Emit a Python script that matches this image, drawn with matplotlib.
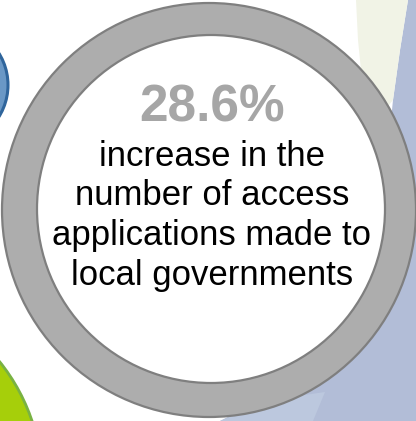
import matplotlib
matplotlib.use("Agg")
import matplotlib.pyplot as plt
from matplotlib.patches import Circle, Polygon

plt.rcParams["font.family"] = ["Liberation Sans", "DejaVu Sans"]

# headline figure and the caption under it
headline = "28.6%"
caption_lines = ["increase in the", "number of access",
                 "applications made to", "local governments"]

W, H = 416, 421
fig = plt.figure(figsize=(W / 100, H / 100), dpi=100)
ax = fig.add_axes([0, 0, 1, 1])
ax.set_xlim(0, W)
ax.set_ylim(H, 0)
ax.set_aspect("auto")
ax.axis("off")

# backdrop shapes peeking in from the edges
ax.add_patch(Polygon([(408, 0), (416, 0), (416, 421), (220, 421), (300, 380),
                      (370, 250), (388, 150), (393, 100), (400, 50)],
                     closed=True, facecolor="#b2bdd7", edgecolor="none", zorder=1))
ax.add_patch(Polygon([(220, 421), (313, 421), (325, 392), (270, 400)],
                     closed=True, facecolor="#bcc8de", edgecolor="none", zorder=1))
ax.add_patch(Polygon([(356, 0), (408, 0), (400, 50), (393, 100), (385, 110),
                      (362, 80), (358, 40)],
                     closed=True, facecolor="#f1f3e6", edgecolor="none", zorder=1))
ax.add_patch(Circle((-52, 85), 60, facecolor="#6a98c6", edgecolor="#2f659c",
                    linewidth=2.2, zorder=1))
ax.add_patch(Circle((-150, 482), 192, facecolor="#a6cf0a", edgecolor="#79b243",
                    linewidth=2.0, zorder=1))

# grey ring with a white face
ax.add_patch(Circle((209, 210), 207, facecolor="#adadad", edgecolor="#7f7f7f",
                    linewidth=1.6, zorder=2))
ax.add_patch(Circle((211, 209), 174, facecolor="white", edgecolor="#7f7f7f",
                    linewidth=1.6, zorder=3))

ax.text(212, 122, headline, ha="center", va="baseline", fontsize=37,
        fontweight="bold", color="#a6a6a6", zorder=4)
baselines = [166, 205, 244.5, 284.5]
for line, y in zip(caption_lines, baselines):
    ax.text(212, y, line, ha="center", va="baseline", fontsize=25,
            color="black", zorder=4)

fig.savefig("out.png", dpi=100)
